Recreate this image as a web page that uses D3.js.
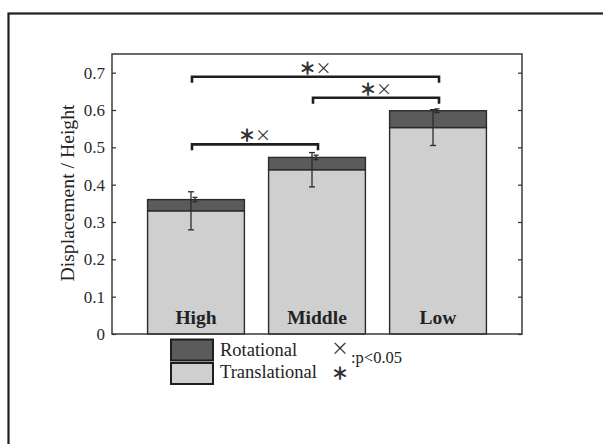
<!DOCTYPE html>
<html>
<head>
<meta charset="utf-8">
<script src="https://cdn.jsdelivr.net/npm/d3@7"></script>
<style>
  html, body { margin: 0; padding: 0; background: #fff; }
  svg { display: block; }
</style>
</head>
<body>
<svg id="chart" width="603" height="444"></svg>
<script>
// Stacked displacement (translational + rotational) per level
const categories = ["High", "Middle", "Low"];
const translational = [0.330, 0.440, 0.553];
const rotational = [0.030, 0.033, 0.045];
const translationalSD = [0.051, 0.046, 0.048];
const rotationalSD = [0.006, 0.006, 0.005];
const yTicks = [0, 0.1, 0.2, 0.3, 0.4, 0.5, 0.6, 0.7];
// Significant pairs (p<0.05) with bracket heights
const pairFrom = ["High", "Middle", "High"];
const pairTo = ["Low", "Low", "Middle"];
const pairLevel = [0.689, 0.633, 0.508];

const svg = d3.select("#chart");
const W = 603, H = 444;
const margin = { left: 112, right: 81, top: 54, bottom: 110 };
const plotW = W - margin.left - margin.right;
const plotH = H - margin.top - margin.bottom;

const ink = "#2b2b2b";
const darkFill = "#5b5b5b";
const lightFill = "#cfcfcf";
const serif = "'Liberation Serif', 'DejaVu Serif', serif";
const cjk = "'Noto Sans CJK JP', sans-serif";

// outer frame around the figure
svg.append("rect")
  .attr("x", 8.5).attr("y", 13.5)
  .attr("width", 620).attr("height", 460)
  .attr("fill", "none").attr("stroke", "#1e1e1e").attr("stroke-width", 2.2);

const g = svg.append("g").attr("transform", `translate(${margin.left},${margin.top})`);

const x = d3.scaleBand().domain(categories).range([0, plotW])
  .paddingInner(0.2).paddingOuter(0.294);
const y = d3.scaleLinear().domain([0, 0.75]).range([plotH, 0]);

// bars: translational at the bottom, rotational stacked above
const rows = categories.map((c, i) => ({
  cat: c, t: translational[i], r: rotational[i],
  tsd: translationalSD[i], rsd: rotationalSD[i]
}));

const bars = g.append("g");
bars.selectAll("rect.trans").data(rows).join("rect")
  .attr("class", "trans")
  .attr("x", d => x(d.cat)).attr("width", x.bandwidth())
  .attr("y", d => y(d.t)).attr("height", d => y(0) - y(d.t))
  .attr("fill", lightFill).attr("stroke", ink).attr("stroke-width", 1.4);
bars.selectAll("rect.rot").data(rows).join("rect")
  .attr("class", "rot")
  .attr("x", d => x(d.cat)).attr("width", x.bandwidth())
  .attr("y", d => y(d.t + d.r)).attr("height", d => y(d.t) - y(d.t + d.r))
  .attr("fill", darkFill).attr("stroke", ink).attr("stroke-width", 1.4);

// error bars
function errorBar(sel, cx, lo, hi, cap) {
  sel.append("line").attr("x1", cx).attr("x2", cx).attr("y1", y(lo)).attr("y2", y(hi));
  sel.append("line").attr("x1", cx - cap).attr("x2", cx + cap).attr("y1", y(lo)).attr("y2", y(lo));
  sel.append("line").attr("x1", cx - cap).attr("x2", cx + cap).attr("y1", y(hi)).attr("y2", y(hi));
}
const errs = g.append("g").attr("stroke", ink).attr("stroke-width", 1.3);
rows.forEach(d => {
  const c = x(d.cat) + x.bandwidth() / 2;
  errorBar(errs, c - 5, d.t - d.tsd, d.t + d.tsd, 3);
  const tot = d.t + d.r;
  errorBar(errs, c - 1, tot - d.rsd, tot + d.rsd, 2.5);
});

// axis frame with inward ticks on both sides
const yAxis = d3.axisLeft(y).tickValues(yTicks).tickSizeInner(-4).tickSizeOuter(0)
  .tickPadding(7).tickFormat(d => d === 0 ? "0" : d3.format(".1f")(d));
const ya = g.append("g").call(yAxis);
ya.select(".domain").remove();
ya.selectAll(".tick line").attr("stroke", ink).attr("stroke-width", 1.2);
ya.selectAll(".tick text").attr("font-family", serif).attr("font-size", 17).attr("fill", "#2a2a2a");

const yAxisR = d3.axisRight(y).tickValues(yTicks).tickSizeInner(-4).tickSizeOuter(0).tickFormat("");
const yr = g.append("g").attr("transform", `translate(${plotW},0)`).call(yAxisR);
yr.select(".domain").remove();
yr.selectAll(".tick line").attr("stroke", ink).attr("stroke-width", 1.2);

g.append("rect").attr("x", 0).attr("y", 0).attr("width", plotW).attr("height", plotH)
  .attr("fill", "none").attr("stroke", "#3a3a3a").attr("stroke-width", 1.5);

// category names inside the bars
g.selectAll("text.cat").data(rows).join("text")
  .attr("class", "cat")
  .attr("x", d => x(d.cat) + x.bandwidth() / 2)
  .attr("y", plotH - 10)
  .attr("text-anchor", "middle")
  .attr("font-family", serif).attr("font-weight", "bold").attr("font-size", 19.5)
  .attr("fill", "#222")
  .text(d => d.cat);

// y axis title
svg.append("text")
  .attr("transform", "translate(74,193) rotate(-90)")
  .attr("text-anchor", "middle")
  .attr("font-family", serif).attr("font-size", 19).attr("fill", "#222")
  .attr("textLength", 177).attr("lengthAdjust", "spacingAndGlyphs")
  .text("Displacement / Height");

// significance brackets, each labelled with both test marks
const tickDrop = 0.016;
const brk = g.append("g");
pairFrom.forEach((a, i) => {
  const x1 = x(a) + x.bandwidth() / 2 - 4;
  const x2 = x(pairTo[i]) + x.bandwidth() / 2 + 1;
  const yl = y(pairLevel[i]);
  brk.append("path")
    .attr("d", `M${x1},${y(pairLevel[i] - tickDrop)}V${yl}H${x2}V${y(pairLevel[i] - tickDrop)}`)
    .attr("fill", "none").attr("stroke", "#1e1e1e").attr("stroke-width", 2.6);
  const t = brk.append("text")
    .attr("x", (x1 + x2) / 2).attr("y", yl - 3)
    .attr("text-anchor", "middle")
    .attr("font-family", cjk).attr("font-size", 16)
    .attr("fill", "#333");
  t.append("tspan").attr("stroke", "#333").attr("stroke-width", 0.9).text("＊");
  t.append("tspan").text("×");
});

// legend
const legend = svg.append("g");
const legendItems = [
  { label: "Rotational", fill: darkFill },
  { label: "Translational", fill: lightFill }
];
legendItems.forEach((d, i) => {
  legend.append("rect")
    .attr("x", 171).attr("y", 339.5 + i * 23.5)
    .attr("width", 42).attr("height", 21)
    .attr("fill", d.fill).attr("stroke", "#1e1e1e").attr("stroke-width", 2);
  legend.append("text")
    .attr("x", 220).attr("y", 356 + i * 22)
    .attr("font-family", serif).attr("font-size", 18.5).attr("fill", "#222")
    .text(d.label);
});
legend.append("text")
  .attr("x", 340).attr("y", 355).attr("text-anchor", "middle")
  .attr("font-family", cjk).attr("font-size", 18).attr("fill", "#333")
  .text("×");
legend.append("text")
  .attr("x", 340).attr("y", 379).attr("text-anchor", "middle")
  .attr("font-family", cjk).attr("font-size", 16).attr("fill", "#333")
  .attr("stroke", "#333").attr("stroke-width", 0.9)
  .text("＊");
legend.append("text")
  .attr("x", 351).attr("y", 363)
  .attr("font-family", serif).attr("font-size", 16.5).attr("fill", "#222")
  .text(":p<0.05");
</script>
</body>
</html>
